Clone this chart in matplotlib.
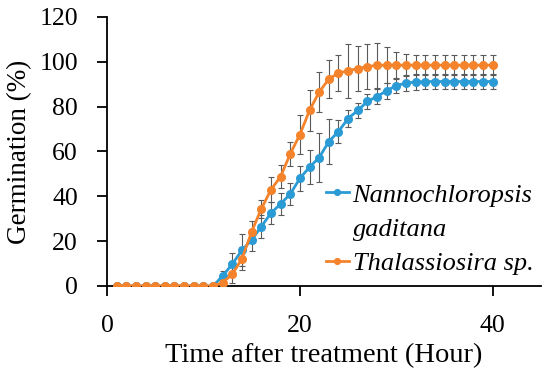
import matplotlib
matplotlib.use("Agg")
import matplotlib.pyplot as plt
from matplotlib.lines import Line2D
import numpy as np

# hours after treatment
hours = list(range(1, 41))

# Nannochloropsis gaditana germination (%)
nanno = [0] * 11 + [4.5, 9.8, 16.0, 20.5, 26.5, 32.5, 36.6, 41.0, 48.0, 53.0,
                    57.3, 64.4, 68.9, 74.7, 78.3, 82.3, 84.5, 87.1, 89.4, 90.5,
                    91.0, 91.2, 91.2, 91.2, 91.2, 91.2, 91.2, 91.2, 91.2]
nanno_err = [0] * 11 + [2, 5, 7, 5, 5, 5, 5, 5, 5.5, 7.5,
                        11, 10, 5, 4, 3.5, 3.5, 3.5, 3.5, 3.5, 3.5,
                        3.5, 3.5, 3.5, 3.5, 3.5, 3.5, 3.5, 3.5, 3.5]

# Thalassiosira sp. germination (%)
thala = [0] * 11 + [1.5, 5.3, 12.2, 24.2, 34.4, 42.9, 48.8, 58.9, 67.5, 78.3,
                    86.5, 92.3, 95.0, 96.0, 97.0, 97.9, 98.4, 98.5, 98.5, 98.5,
                    98.5, 98.5, 98.5, 98.5, 98.5, 98.5, 98.5, 98.5, 98.5]
thala_err = [0] * 11 + [1.5, 4, 5, 5, 4, 5.5, 5, 5.5, 8.7, 9,
                        9, 8.5, 8, 12, 10, 10, 10, 8, 6, 5,
                        4.5, 4.5, 4.5, 4.5, 4.5, 4.5, 4.5, 4.5, 4.5]

blue = '#2b9bd6'
orange = '#f5832b'
grey = '#5a5a5a'

plt.rcParams['font.family'] = ['Liberation Serif', 'DejaVu Serif']

fig = plt.figure(figsize=(5.5, 3.77), dpi=100)
ax = fig.add_axes([0.1945, 0.2414, 0.7891, 0.7136])

ax.errorbar(hours, nanno, yerr=nanno_err, fmt='none', ecolor=grey,
            elinewidth=0.8, capsize=2, capthick=0.8, zorder=1)
ax.errorbar(hours, thala, yerr=thala_err, fmt='none', ecolor=grey,
            elinewidth=0.8, capsize=2, capthick=0.8, zorder=1)
l1, = ax.plot(hours, nanno, color=blue, lw=2, marker='o', ms=5.5, zorder=2)
l2, = ax.plot(hours, thala, color=orange, lw=2, marker='o', ms=5.5, zorder=3)

ax.set_xlim(0, 45)
ax.set_ylim(0, 120)
ax.set_xticks([0, 20, 40])
ax.set_yticks(range(0, 121, 20))
ax.spines['top'].set_visible(False)
ax.spines['right'].set_visible(False)
for s in ['left', 'bottom']:
    ax.spines[s].set_linewidth(1.3)
ax.tick_params(axis='both', direction='out', length=7, width=1.3, labelsize=18.5)
ax.tick_params(axis='y', pad=14)
ax.tick_params(axis='x', pad=14)

ax.set_xlabel('Time after treatment (Hour)', fontsize=20.5, labelpad=4)
ax.set_ylabel('Germination (%)', fontsize=19.5, labelpad=5)

blank = Line2D([], [], alpha=0)
ax.legend([l1, blank, l2], ['Nannochloropsis', 'gaditana', 'Thalassiosira sp.'],
          loc='upper left', bbox_to_anchor=(0.505, 0.382), frameon=False,
          prop={'style': 'italic', 'size': 19}, handlelength=0.85,
          handletextpad=0.15, borderpad=0, borderaxespad=0, labelspacing=0.4,
          markerscale=0.75)

fig.savefig('out.png', dpi=100)
